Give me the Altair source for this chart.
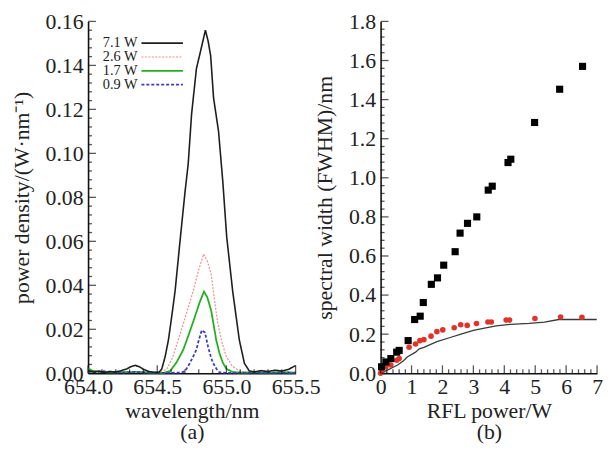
import altair as alt
import pandas as pd
import numpy as np

FONT = "Liberation Serif"
TXT = "#222222"

# ---------------- panel (a): spectra ----------------
series_names = ["7.1 W", "2.6 W", "1.7 W", "0.9 W"]
series_colors = ["#1e1e1e", "#f28b8b", "#22b022", "#3a3ac8"]
series_dash = [[1, 0], [2, 1.5], [1, 0], [3, 2]]
series_width = [1.6, 1.2, 1.8, 1.8]

black_wl = [654.00, 654.04, 654.08, 654.12, 654.16, 654.20, 654.24, 654.28, 654.31, 654.34,
            654.37, 654.40, 654.44, 654.48, 654.512, 654.533, 654.557, 654.581, 654.605, 654.629,
            654.664, 654.700, 654.724, 654.748, 654.783, 654.815, 654.848, 654.868, 654.886, 654.907,
            654.943, 654.974, 655.002, 655.045, 655.093, 655.130, 655.164, 655.20, 655.25, 655.30,
            655.35, 655.40, 655.45, 655.50]
black_pd = [0.0012, 0.0006, 0.0010, 0.0004, 0.0008, 0.0006, 0.0012, 0.0020, 0.0030, 0.0036,
            0.0030, 0.0018, 0.0008, 0.0004, 0.0004, 0.0020, 0.0075, 0.0152, 0.0260, 0.0374,
            0.0597, 0.0820, 0.0954, 0.1177, 0.1385, 0.1470, 0.1560, 0.1510, 0.1444, 0.1252,
            0.1100, 0.0870, 0.0620, 0.0374, 0.0152, 0.0045, 0.0012, 0.0006, 0.0012, 0.0008,
            0.0014, 0.0010, 0.0018, 0.0035]

red_wl = [654.00, 654.10, 654.20, 654.30, 654.40, 654.50, 654.569, 654.61, 654.652, 654.70,
          654.76, 654.80, 654.835, 654.862, 654.89, 654.912, 654.938, 654.968, 654.998, 655.04,
          655.093, 655.15, 655.25, 655.35, 655.45, 655.50]
red_pd = [0.0006, 0.0004, 0.0006, 0.0008, 0.0005, 0.0003, 0.0018, 0.0070, 0.0152, 0.0250,
          0.0374, 0.0470, 0.0542, 0.0510, 0.0449, 0.0340, 0.0226, 0.0140, 0.0077, 0.0035,
          0.0010, 0.0004, 0.0005, 0.0004, 0.0006, 0.0005]

green_wl = [654.00, 654.03, 654.08, 654.15, 654.25, 654.35, 654.45, 654.55, 654.593, 654.64,
            654.688, 654.73, 654.771, 654.805, 654.838, 654.862, 654.89, 654.926, 654.95, 654.974,
            655.00, 655.045, 655.10, 655.20, 655.30, 655.40, 655.50]
green_pd = [0.0022, 0.0012, 0.0006, 0.0004, 0.0005, 0.0006, 0.0003, 0.0002, 0.0010, 0.0050,
            0.0107, 0.0180, 0.0255, 0.0320, 0.0372, 0.0345, 0.0285, 0.0152, 0.0090, 0.0048,
            0.0020, 0.0006, 0.0003, 0.0004, 0.0003, 0.0004, 0.0003]

blue_wl = [654.00, 654.05, 654.10, 654.18, 654.26, 654.34, 654.42, 654.50, 654.60, 654.676,
           654.70, 654.724, 654.755, 654.783, 654.80, 654.822, 654.845, 654.867, 654.885, 654.902,
           654.93, 654.95, 655.00, 655.10, 655.20, 655.30, 655.40, 655.50]
blue_pd = [0.0008, 0.0004, 0.0010, 0.0005, 0.0003, 0.0006, 0.0004, 0.0002, 0.0002, 0.0003,
           0.0010, 0.0033, 0.0070, 0.0107, 0.0150, 0.0196, 0.0185, 0.0122, 0.0080, 0.0048,
           0.0018, 0.0004, 0.0002, 0.0002, 0.0003, 0.0002, 0.0003, 0.0002]

a_x_major = [654.0, 654.5, 655.0, 655.5]
a_y_major = [0.00, 0.02, 0.04, 0.06, 0.08, 0.10, 0.12, 0.14, 0.16]

# ---------------- panel (b): FWHM ----------------
black_power = [0.03, 0.17, 0.33, 0.52, 0.60, 0.89, 1.10, 1.28, 1.38, 1.64, 1.84, 2.04,
               2.41, 2.57, 2.81, 3.11, 3.48, 3.61, 4.12, 4.21, 4.98, 5.79, 6.53]
black_fwhm = [0.033, 0.058, 0.075, 0.108, 0.117, 0.167, 0.275, 0.292, 0.362, 0.455, 0.488, 0.553,
              0.622, 0.717, 0.767, 0.800, 0.937, 0.957, 1.078, 1.095, 1.283, 1.453, 1.570]

red_power = [0.0, 0.03, 0.17, 0.33, 0.52, 0.60, 0.92, 1.13, 1.27, 1.40, 1.63, 1.82, 2.01,
             2.38, 2.59, 2.80, 3.10, 3.47, 3.58, 4.06, 4.17, 4.99, 5.82, 6.51]
red_fwhm = [0.0, 0.008, 0.033, 0.042, 0.067, 0.075, 0.133, 0.150, 0.167, 0.172, 0.190, 0.213, 0.222,
            0.233, 0.248, 0.245, 0.255, 0.262, 0.262, 0.272, 0.272, 0.280, 0.288, 0.287]

line_power = [0.0, 0.2, 0.55, 0.75, 0.86, 1.13, 1.25, 1.40, 1.82, 2.25, 2.6, 3.0, 3.4,
              3.74, 4.2, 4.8, 5.3, 5.76, 6.3, 6.99]
line_fwhm = [0.0, 0.015, 0.042, 0.065, 0.083, 0.108, 0.125, 0.133, 0.162, 0.183, 0.200, 0.220, 0.232,
             0.242, 0.250, 0.255, 0.262, 0.275, 0.275, 0.275]

b_x_major = [0, 1, 2, 3, 4, 5, 6, 7]
b_y_major = [0.0, 0.2, 0.4, 0.6, 0.8, 1.0, 1.2, 1.4, 1.6, 1.8]

# ---------------- layout constants ----------------
AW, AH = 210, 356
BW, BH = 219, 356
MAJ, MIN = 8, 4
FS = 22


def minor_ticks(lo, hi, step, majors):
    vals = np.round(np.arange(lo, hi + step / 2, step), 4)
    return [float(v) for v in vals if not any(abs(v - m) < 1e-6 for m in majors)]


def axis_cfg(title, values, fmt, title_pad, label_pad):
    return alt.Axis(title=title, values=values, format=fmt, ticks=False, tickSize=0,
                    grid=False, labelFont=FONT, labelFontSize=FS, labelColor=TXT,
                    labelPadding=label_pad, titleFont=FONT, titleFontSize=FS,
                    titleColor=TXT, titleFontWeight="normal", titlePadding=title_pad,
                    domainColor="#111111", domainWidth=1.6, labelOverlap=False,
                    labelFlush=False, titleLineHeight=21)


def tick_layers(xenc_kw, yenc_kw, xmaj, xmin, ymaj, ymin, h):
    layers = []
    for vals, ln in ((xmaj, MAJ), (xmin, MIN)):
        layers.append(alt.Chart(pd.DataFrame({"tv": vals})).mark_tick(
            orient="vertical", size=ln, thickness=1.3, color="#111111").encode(
            x=alt.X("tv:Q", **xenc_kw), y=alt.value(h - ln / 2)))
    for vals, ln in ((ymaj, MAJ), (ymin, MIN)):
        layers.append(alt.Chart(pd.DataFrame({"tv": vals})).mark_tick(
            orient="horizontal", size=ln, thickness=1.3, color="#111111").encode(
            y=alt.Y("tv:Q", **yenc_kw), x=alt.value(ln / 2)))
    return layers


# ---------------- build panel (a) ----------------
ax_kw = dict(scale=alt.Scale(domain=[654.0, 655.5], nice=False, zero=False),
             axis=axis_cfg(["wavelength/nm", "(a)"], a_x_major, ".1f", 4, 3))
ay_kw = dict(scale=alt.Scale(domain=[0.0, 0.16], nice=False),
             axis=axis_cfg("power density/(W·nm⁻¹)", a_y_major, ".2f", 12, 5))

spectra = [
    (black_wl, black_pd),
    (red_wl, red_pd),
    (green_wl, green_pd),
    (blue_wl, blue_pd),
]

a_layers = []
for idx in [1, 2, 3, 0]:
    wl, pdv = spectra[idx]
    df = pd.DataFrame({"wl": wl, "pd": pdv})
    a_layers.append(alt.Chart(df).mark_line(
        color=series_colors[idx], strokeDash=series_dash[idx],
        strokeWidth=series_width[idx], interpolate="linear").encode(
        x=alt.X("wl:Q", **ax_kw), y=alt.Y("pd:Q", **ay_kw)))

# legend (labels left of line samples)
for i, name in enumerate(series_names):
    ldf = pd.DataFrame({"label": [name]})
    yy = 22 + 14 * i
    a_layers.append(alt.Chart(ldf).mark_text(
        align="right", baseline="middle", font=FONT, fontSize=14.5, color=TXT).encode(
        text="label:N", x=alt.value(50), y=alt.value(yy)))
    a_layers.append(alt.Chart(ldf).mark_rule(
        color=series_colors[i], strokeDash=series_dash[i], strokeWidth=series_width[i]).encode(
        x=alt.value(54), x2=alt.value(96), y=alt.value(yy)))

a_layers += tick_layers(ax_kw, ay_kw, a_x_major,
                        minor_ticks(654.0, 655.5, 0.1, a_x_major),
                        a_y_major, minor_ticks(0.0, 0.16, 0.004, a_y_major), AH)

panel_a = alt.layer(*a_layers).properties(width=AW, height=AH)

# ---------------- build panel (b) ----------------
bx_kw = dict(scale=alt.Scale(domain=[0, 7], nice=False),
             axis=axis_cfg(["RFL power/W", "(b)"], b_x_major, "d", 4, 3))
by_kw = dict(scale=alt.Scale(domain=[0, 1.8], nice=False),
             axis=axis_cfg("spectral width (FWHM)/nm", b_y_major, ".1f", 12, 5))

line_df = pd.DataFrame({"p": line_power, "w": line_fwhm})
red_df = pd.DataFrame({"p": red_power, "w": red_fwhm})
blk_df = pd.DataFrame({"p": black_power, "w": black_fwhm})

b_line = alt.Chart(line_df).mark_line(color="#3a3a3a", strokeWidth=1.3).encode(
    x=alt.X("p:Q", **bx_kw), y=alt.Y("w:Q", **by_kw))
b_red = alt.Chart(red_df).mark_circle(color="#e0342a", size=32, opacity=1).encode(
    x=alt.X("p:Q", **bx_kw), y=alt.Y("w:Q", **by_kw))
b_blk = alt.Chart(blk_df).mark_square(color="#000000", size=52, opacity=1).encode(
    x=alt.X("p:Q", **bx_kw), y=alt.Y("w:Q", **by_kw))

b_layers = [b_line, b_red, b_blk] + tick_layers(
    bx_kw, by_kw, b_x_major, minor_ticks(0, 7, 0.2, b_x_major),
    b_y_major, minor_ticks(0, 1.8, 0.04, b_y_major), BH)

panel_b = alt.layer(*b_layers).properties(width=BW, height=BH)

chart = alt.hconcat(panel_a, panel_b, spacing=86, bounds="flush").properties(
    padding={"left": 2, "top": 0, "right": 0, "bottom": 0},
    background="white",
).configure_view(strokeWidth=0).configure_axis(
    labelFont=FONT, titleFont=FONT, labelFontSize=FS, titleFontSize=FS,
    labelColor=TXT, titleColor=TXT, titleFontWeight="normal", labelFlush=False,
).configure_text(font=FONT)

chart.save("out.html", embed_options={"renderer": "svg", "actions": False})
